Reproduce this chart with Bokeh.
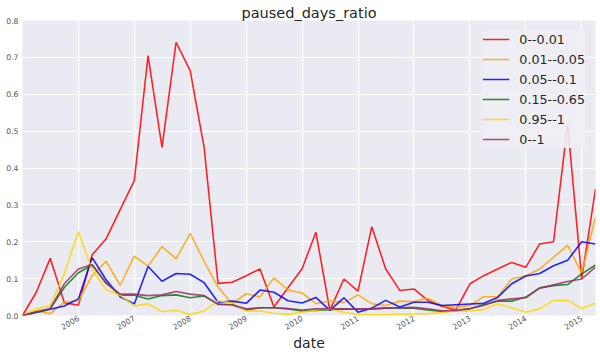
import math
import pandas as pd
from bokeh.plotting import figure
from bokeh.models import (Range1d, FixedTicker, DatetimeTickFormatter, Legend,
                          LegendItem, NumeralTickFormatter)
from bokeh.embed import file_html
from bokeh.resources import INLINE

# quarterly dates 2005Q1 .. 2015Q2
dates = pd.date_range("2005-01-01", periods=42, freq="QS")

names = ["0--0.01", "0.01--0.05", "0.05--0.1", "0.15--0.65", "0.95--1", "0--1"]
colors = ["#ff0000", "#ffa500", "#0000ff", "#008000", "#ffd700", "#a02a70"]

r_0_001 = [0, 0.063, 0.155, 0.035, 0.028, 0.165, 0.208, 0.287, 0.366, 0.705,
           0.456, 0.741, 0.664, 0.456, 0.087, 0.090, 0.108, 0.126, 0.023, 0.075,
           0.127, 0.226, 0.014, 0.099, 0.066, 0.241, 0.126, 0.068, 0.072, 0.041,
           0.025, 0.015, 0.086, 0.108, 0.126, 0.144, 0.131, 0.194, 0.200, 0.519,
           0.100, 0.343]
r_001_005 = [0, 0.013, 0.005, 0.036, 0.040, 0.108, 0.147, 0.082, 0.161, 0.134,
             0.187, 0.154, 0.223, 0.147, 0.077, 0.032, 0.059, 0.050, 0.102, 0.069,
             0.061, 0.032, 0.040, 0.035, 0.056, 0.032, 0.027, 0.039, 0.038, 0.047,
             0.027, 0.022, 0.027, 0.051, 0.051, 0.099, 0.108, 0.126, 0.158, 0.190,
             0.115, 0.267]
r_005_01 = [0, 0.008, 0.017, 0.026, 0.045, 0.157, 0.097, 0.051, 0.031, 0.133,
            0.093, 0.114, 0.112, 0.089, 0.036, 0.039, 0.033, 0.069, 0.063, 0.040,
            0.034, 0.049, 0.014, 0.048, 0.009, 0.020, 0.041, 0.023, 0.036, 0.036,
            0.027, 0.029, 0.031, 0.033, 0.049, 0.086, 0.107, 0.114, 0.135, 0.150,
            0.200, 0.194]
r_015_065 = [0, 0.009, 0.018, 0.076, 0.116, 0.137, 0.089, 0.055, 0.055, 0.045,
             0.054, 0.056, 0.048, 0.053, 0.031, 0.029, 0.015, 0.021, 0.021, 0.018,
             0.012, 0.014, 0.016, 0.017, 0.017, 0.018, 0.020, 0.020, 0.020, 0.015,
             0.011, 0.012, 0.018, 0.030, 0.039, 0.039, 0.050, 0.075, 0.081, 0.084,
             0.113, 0.137]
r_095_1 = [0, 0.018, 0.027, 0.113, 0.227, 0.124, 0.070, 0.055, 0.026, 0.032,
           0.010, 0.014, 0.003, 0.012, 0.040, 0.034, 0.012, 0.012, 0.006, 0.003,
           0.009, 0.015, 0.018, 0.009, 0.003, 0.002, 0.002, 0.003, 0.004, 0.005,
           0.008, 0.012, 0.012, 0.016, 0.032, 0.021, 0.009, 0.018, 0.041, 0.041,
           0.019, 0.033]
r_0_1 = [0, 0.010, 0.019, 0.086, 0.126, 0.138, 0.087, 0.058, 0.058, 0.054,
         0.056, 0.065, 0.058, 0.054, 0.030, 0.029, 0.018, 0.021, 0.021, 0.019,
         0.015, 0.018, 0.018, 0.018, 0.018, 0.018, 0.020, 0.021, 0.022, 0.018,
         0.013, 0.014, 0.019, 0.027, 0.041, 0.045, 0.048, 0.074, 0.083, 0.092,
         0.099, 0.131]
series = [r_0_001, r_001_005, r_005_01, r_015_065, r_095_1, r_0_1]

year_ticks = [2006, 2007, 2008, 2009, 2010, 2011, 2012, 2013, 2014, 2015]
y_ticks = [0.0, 0.1, 0.2, 0.3, 0.4, 0.5, 0.6, 0.7, 0.8]

p = figure(width=600, height=358, output_backend="svg", toolbar_location=None,
           x_axis_type="datetime",
           x_range=Range1d(dates[0], dates[-1]), y_range=Range1d(0, 0.8),
           min_border_left=22, min_border_right=5, min_border_top=20,
           min_border_bottom=43, title="paused_days_ratio")

p.background_fill_color = "#EAEAF2"
p.border_fill_color = "white"
p.outline_line_color = None

p.title.align = "center"
p.title.text_font = "DejaVu Sans"
p.title.text_font_size = "14.5px"
p.title.text_font_style = "normal"
p.title.text_color = "#262626"
p.title.standoff = 0
p.title.offset = 0

items = []
for name, col, vals in zip(names, colors, series):
    r = p.line(dates, vals, line_color=col, line_width=1.6, line_alpha=0.85)
    items.append(LegendItem(label=name, renderers=[r]))

tick_ms = [pd.Timestamp(f"{y}-01-01").value // 10**6 for y in year_ticks]
p.xaxis.ticker = FixedTicker(ticks=tick_ms)
p.xaxis.formatter = DatetimeTickFormatter(days="%Y", months="%Y", years="%Y")
p.xaxis.major_label_orientation = math.pi / 6
p.xaxis.axis_label = "date"
p.yaxis.ticker = FixedTicker(ticks=y_ticks)
p.yaxis.formatter = NumeralTickFormatter(format="0.0")

for ax in (p.xaxis, p.yaxis):
    ax.axis_line_color = None
    ax.major_tick_line_color = None
    ax.minor_tick_line_color = None
    ax.major_tick_out = 0
    ax.major_tick_in = 0
    ax.major_label_text_font = "DejaVu Sans"
    ax.major_label_text_font_size = "7.7px"
    ax.major_label_text_color = "#555555"
p.yaxis.major_label_standoff = 4
p.xaxis.major_label_standoff = 2
p.xaxis.axis_label_text_font = "DejaVu Sans"
p.xaxis.axis_label_text_font_size = "14px"
p.xaxis.axis_label_text_font_style = "normal"
p.xaxis.axis_label_text_color = "#262626"
p.xaxis.axis_label_standoff = 0

p.xgrid.grid_line_color = "white"
p.ygrid.grid_line_color = "white"
p.xgrid.grid_line_width = 1.2
p.ygrid.grid_line_width = 1.2

legend = Legend(items=items, location="top_right")
legend.label_text_font = "DejaVu Sans"
legend.label_text_font_size = "12.7px"
legend.label_text_color = "#262626"
legend.glyph_width = 27
legend.glyph_height = 18
legend.label_height = 18
legend.spacing = 2
legend.padding = 6
legend.margin = 10
legend.label_standoff = 10
legend.background_fill_color = "#EEEEF4"
legend.background_fill_alpha = 0.9
legend.border_line_color = None
p.add_layout(legend)

open("out.html", "w").write(file_html(p, INLINE))
